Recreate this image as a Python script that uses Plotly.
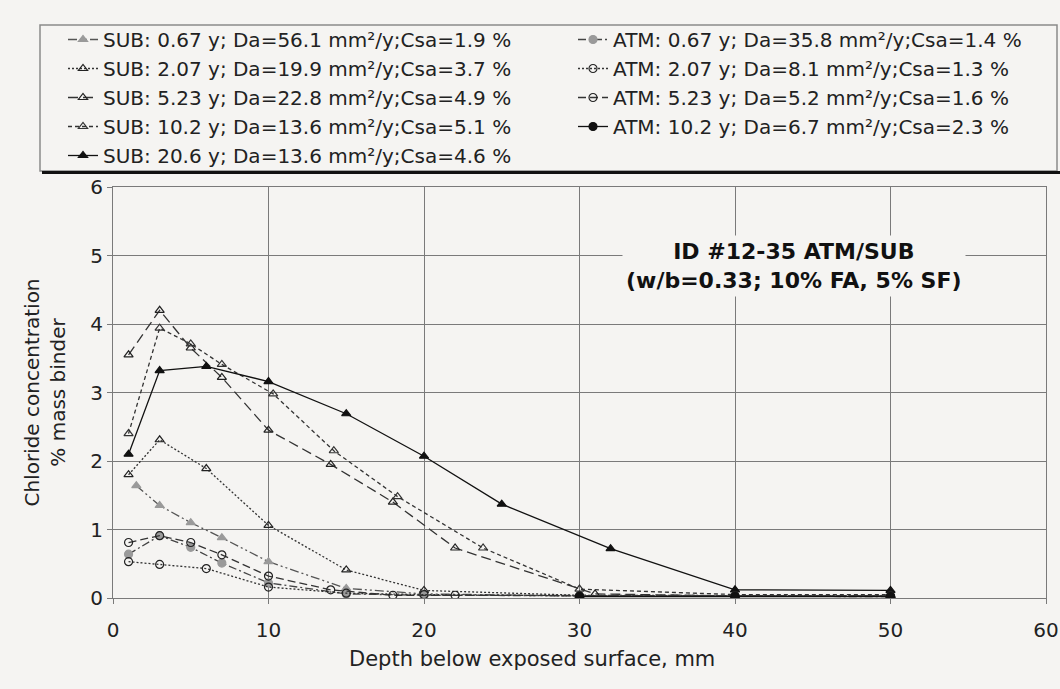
import plotly.graph_objects as go

# ---------------- data ----------------
sub067_x = [1.5, 3, 5, 7, 10, 15, 20, 30, 40, 50]
sub067_y = [1.64, 1.35, 1.10, 0.88, 0.53, 0.14, 0.06, 0.03, 0.03, 0.03]

sub207_x = [1, 3, 6, 10, 15, 20, 30, 40, 50]
sub207_y = [1.80, 2.31, 1.89, 1.06, 0.41, 0.11, 0.04, 0.03, 0.03]

sub523_x = [1, 3, 5, 7, 10, 14, 18, 22, 31, 40, 50]
sub523_y = [3.55, 4.20, 3.65, 3.22, 2.45, 1.95, 1.40, 0.73, 0.06, 0.03, 0.03]

sub102_x = [1, 3, 5, 7, 10.3, 14.2, 18.3, 23.8, 30, 40, 50]
sub102_y = [2.40, 3.94, 3.71, 3.41, 2.98, 2.15, 1.48, 0.73, 0.13, 0.05, 0.05]

sub206_x = [1, 3, 6, 10, 15, 20, 25, 32, 40, 50]
sub206_y = [2.10, 3.32, 3.38, 3.16, 2.69, 2.07, 1.37, 0.72, 0.12, 0.11]

atm067_x = [1, 3, 5, 7, 10, 15, 20, 30, 40, 50]
atm067_y = [0.64, 0.91, 0.74, 0.51, 0.22, 0.06, 0.04, 0.03, 0.02, 0.02]

atm207_x = [1, 3, 6, 10, 15, 20, 30, 40, 50]
atm207_y = [0.53, 0.49, 0.43, 0.16, 0.07, 0.05, 0.03, 0.03, 0.03]

atm523_x = [1, 3, 5, 7, 10, 14, 18, 22, 30, 40, 50]
atm523_y = [0.81, 0.91, 0.81, 0.63, 0.32, 0.12, 0.04, 0.04, 0.03, 0.03, 0.03]

atm102_x = [30, 40, 50]
atm102_y = [0.02, 0.02, 0.02]

sub_names = [
    "SUB: 0.67 y; Da=56.1 mm²/y;Csa=1.9 %",
    "SUB: 2.07 y; Da=19.9 mm²/y;Csa=3.7 %",
    "SUB: 5.23 y; Da=22.8 mm²/y;Csa=4.9 %",
    "SUB: 10.2 y; Da=13.6 mm²/y;Csa=5.1 %",
    "SUB: 20.6 y; Da=13.6 mm²/y;Csa=4.6 %",
]
atm_names = [
    "ATM: 0.67 y; Da=35.8 mm²/y;Csa=1.4 %",
    "ATM: 2.07 y; Da=8.1 mm²/y;Csa=1.3 %",
    "ATM: 5.23 y; Da=5.2 mm²/y;Csa=1.6 %",
    "ATM: 10.2 y; Da=6.7 mm²/y;Csa=2.3 %",
]

x_title = "Depth below exposed surface, mm"
y_title = "Chloride concentration<br>% mass binder"
note = "<b>ID #12-35 ATM/SUB<br>(w/b=0.33; 10% FA, 5% SF)</b>"

BG = "#f5f4f2"
GRID = "#7a7a7a"
FONT = "DejaVu Sans"

# (x, y, name, legend, line color, dash, marker symbol, marker color)
series = [
    (sub067_x, sub067_y, sub_names[0], "legend", "#555555", "9px,3px,2px,3px,2px,3px", "triangle-up", "#9a9a9a"),
    (sub207_x, sub207_y, sub_names[1], "legend", "#333333", "2px,2px", "triangle-up-open", "#222222"),
    (sub523_x, sub523_y, sub_names[2], "legend", "#333333", "10px,5px", "triangle-up-open", "#222222"),
    (sub102_x, sub102_y, sub_names[3], "legend", "#333333", "4px,3px", "triangle-up-open", "#333333"),
    (sub206_x, sub206_y, sub_names[4], "legend", "#111111", "solid", "triangle-up", "#111111"),
    (atm067_x, atm067_y, atm_names[0], "legend2", "#444444", "8px,3px,2px,3px", "circle", "#9a9a9a"),
    (atm207_x, atm207_y, atm_names[1], "legend2", "#333333", "2px,2px", "circle-open", "#222222"),
    (atm523_x, atm523_y, atm_names[2], "legend2", "#333333", "8px,4px", "circle-open", "#222222"),
    (atm102_x, atm102_y, atm_names[3], "legend2", "#111111", "solid", "circle", "#111111"),
]

fig = go.Figure()
for xs, ys, nm, lg, lc, dash, sym, mc in series:
    fig.add_trace(go.Scatter(
        x=xs, y=ys, name=nm, mode="lines+markers", legend=lg,
        line=dict(color=lc, width=1.3, dash=dash),
        marker=dict(symbol=sym, size=8, color=mc, line=dict(color=mc, width=1.2)),
    ))

W, H = 1060, 689
ML, MR, MT, MB = 113, 14, 187, 91
PW, PH = W - ML - MR, H - MT - MB


def px_x(p):
    return (p - ML) / PW


def px_y(p):
    return (H - MB - p) / PH


leg_common = dict(
    orientation="v", yanchor="top", xanchor="left",
    bgcolor="rgba(0,0,0,0)", borderwidth=0,
    font=dict(family=FONT, size=20, color="#222222"),
    traceorder="normal",
)

fig.update_layout(
    width=W, height=H,
    margin=dict(l=ML, r=MR, t=MT, b=MB, autoexpand=False),
    paper_bgcolor=BG, plot_bgcolor=BG,
    font=dict(family=FONT, size=20, color="#222222"),
    showlegend=True,
    legend=dict(x=px_x(63), y=px_y(20), **leg_common),
    legend2=dict(x=px_x(573), y=px_y(20), **leg_common),
    xaxis=dict(
        range=[0, 60], dtick=10, tick0=0,
        showgrid=True, gridcolor=GRID, gridwidth=1.2,
        zeroline=False, showline=True, linecolor=GRID, linewidth=1.2, mirror=True,
        ticks="outside", ticklen=5, tickcolor=GRID,
        ticklabelstandoff=9,
        tickfont=dict(size=20),
    ),
    yaxis=dict(
        range=[0, 6], dtick=1, tick0=0,
        showgrid=True, gridcolor=GRID, gridwidth=1.2,
        zeroline=False, showline=True, linecolor=GRID, linewidth=1.2, mirror=True,
        ticks="outside", ticklen=5, tickcolor=GRID,
        title=dict(text=y_title, font=dict(size=20), standoff=19),
        tickfont=dict(size=20),
    ),
    shapes=[
        dict(type="rect", xref="paper", yref="paper",
             x0=px_x(40), x1=px_x(1057), y0=px_y(171), y1=px_y(25),
             line=dict(color="#8a8a8a", width=1.5), fillcolor="rgba(0,0,0,0)", layer="below"),
        dict(type="line", xref="paper", yref="paper",
             x0=px_x(42), x1=px_x(1060), y0=px_y(172.5), y1=px_y(172.5),
             line=dict(color="#111111", width=3)),
    ],
    annotations=[
        dict(text=note, x=43.8, y=4.84, xref="x", yref="y", showarrow=False,
             font=dict(family=FONT, size=22, color="#111111"), bgcolor=BG,
             align="center", borderpad=3),
        dict(text=x_title, x=px_x(532), y=px_y(659), xref="paper", yref="paper",
             showarrow=False, xanchor="center", yanchor="middle",
             font=dict(family=FONT, size=21, color="#222222")),
    ],
)

fig.write_html("out.html")
